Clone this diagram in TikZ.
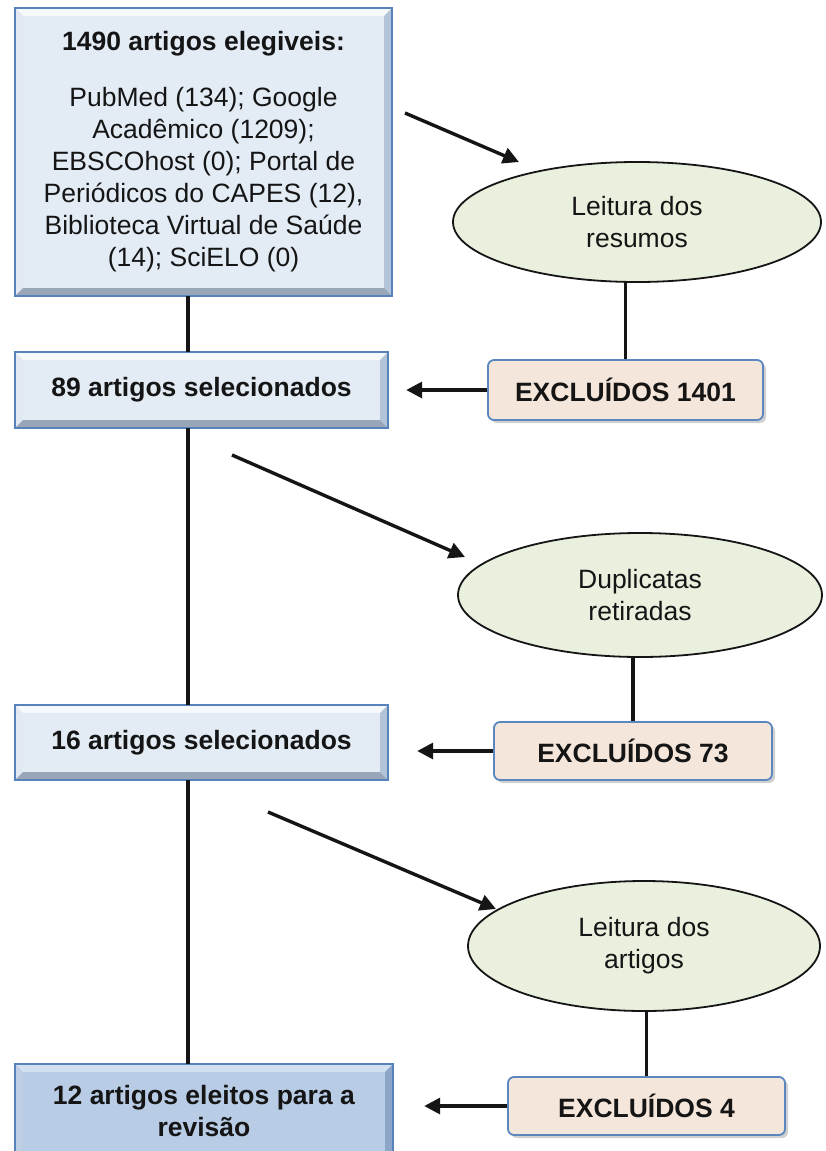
\documentclass[tikz,border=0pt]{standalone}
\usepackage{fontspec}
\setmainfont{Liberation Sans}
\usetikzlibrary{shapes.geometric,arrows.meta,shadows,calc}
\definecolor{boxfill}{HTML}{E3EBF5}
\definecolor{boxlight}{HTML}{F6F9FC}
\definecolor{boxdark}{HTML}{B3C3D8}
\definecolor{boxborder}{HTML}{5683BC}
\definecolor{finfill}{HTML}{B8CCE5}
\definecolor{finlight}{HTML}{D3E0F0}
\definecolor{findark}{HTML}{8CA6C8}
\definecolor{ellfill}{HTML}{EAF0DE}
\definecolor{exfill}{HTML}{F4E6DA}
\definecolor{exborder}{HTML}{5B87C0}
\definecolor{ink}{HTML}{151515}
\newcommand\bevelit[3]{%
  \fill[#2] (#1.north west) -- (#1.north east) -- ($(#1.north east)+(-8,8)$) -- ($(#1.north west)+(8,8)$) -- cycle;
  \fill[#2!70!#3] (#1.north west) -- ($(#1.north west)+(8,8)$) -- ($(#1.south west)+(8,-8)$) -- (#1.south west) -- cycle;
  \fill[#3] (#1.north east) -- (#1.south east) -- ($(#1.south east)+(-8,-8)$) -- ($(#1.north east)+(-8,8)$) -- cycle;
  \fill[#3!85!black] (#1.south west) -- ($(#1.south west)+(8,-8)$) -- ($(#1.south east)+(-8,-8)$) -- (#1.south east) -- cycle;
  \draw[boxborder, line width=1.6pt] (#1.north west) rectangle (#1.south east);
}
\begin{document}
\begin{tikzpicture}[x=1pt,y=-1pt,
  txt/.style={text=ink, font=\fontsize{26.5}{32}\selectfont, align=center, inner sep=0pt},
  mainbox/.style={txt, rectangle, fill=boxfill},
  finbox/.style={txt, rectangle, fill=finfill},
  ell/.style={txt, ellipse, fill=ellfill, draw=ink, line width=1.8pt},
  exbox/.style={txt, rectangle, rounded corners=6pt, fill=exfill, draw=exborder, line width=1.8pt,
    drop shadow={shadow xshift=3pt, shadow yshift=-3pt, opacity=0.3, fill=black!60}},
  conn/.style={draw=ink, line width=3.4pt},
  arr/.style={conn, -{Triangle[length=16pt,width=16pt]}}]
\useasboundingbox[fill=white] (0,0) rectangle (826,1151);

% main boxes
\node[mainbox, minimum width=377pt, minimum height=288pt] (b1) at (203.5,152) {};
\bevelit{b1}{boxlight}{boxdark}
\node[txt] at (b1) {\textbf{1490 artigos elegiveis:}\\[24pt] PubMed (134); Google\\ Acadêmico (1209);\\ EBSCOhost (0); Portal de\\ Periódicos do CAPES (12),\\ Biblioteca Virtual de Saúde\\ (14); SciELO (0)};

\node[mainbox, minimum width=373pt, minimum height=76pt] (b2) at (201.5,390) {};
\bevelit{b2}{boxlight}{boxdark}
\node[txt] at (b2) {\textbf{89 artigos selecionados}};

\node[mainbox, minimum width=373pt, minimum height=75pt] (b3) at (201.5,742.5) {};
\bevelit{b3}{boxlight}{boxdark}
\node[txt] at (b3) {\textbf{16 artigos selecionados}};

\node[finbox, minimum width=378pt, minimum height=96pt] (b4) at (204,1112) {};
\bevelit{b4}{finlight}{findark}
\node[txt] at (204,1111) {\textbf{12 artigos eleitos para a}\\\textbf{revisão}};

% ellipses
\node[ell, minimum width=368pt, minimum height=120pt] (e1) at (637,222) {Leitura dos\\resumos};
\node[ell, minimum width=364pt, minimum height=124pt] (e2) at (640,595) {Duplicatas\\retiradas};
\node[ell, minimum width=352pt, minimum height=130pt] (e3) at (644,946) {Leitura dos\\artigos};

% excluded boxes
\node[exbox, minimum width=275pt, minimum height=60pt] (x1) at (625.5,390) {\textbf{EXCLUÍDOS 1401}};
\node[exbox, minimum width=278pt, minimum height=58pt] (x2) at (633,751) {\textbf{EXCLUÍDOS 73}};
\node[exbox, minimum width=277pt, minimum height=58pt] (x3) at (646.5,1106) {\textbf{EXCLUÍDOS 4}};

% spine
\coordinate (spine) at (188,0);
\draw[conn] (b1.south -| spine) -- (b2.north -| spine);
\draw[conn] (b2.south -| spine) -- (b3.north -| spine);
\draw[conn] (b3.south -| spine) -- (b4.north -| spine);

% ellipse to excluded
\draw[conn] (e1.south -| x1.north) -- (x1.north);
\draw[conn] (e2.south -| x2.north) -- (x2.north);
\draw[conn] (e3.south -| x3.north) -- (x3.north);

% excluded arrows
\draw[arr, shorten >=18pt] (x1.west) -- (x1.west -| b2.east);
\draw[arr, shorten >=29pt] (x2.west) -- (x2.west -| b3.east);
\draw[arr, shorten >=31pt] (x3.west) -- (x3.west -| b4.east);

% diagonal arrows
\coordinate (a1s) at (405,113);
\coordinate (a1e) at (519,162);
\coordinate (a2s) at (232,455);
\coordinate (a2e) at (465,557);
\coordinate (a3s) at (268,812);
\coordinate (a3e) at (496,909);
\draw[arr] (a1s) -- (a1e);
\draw[arr] (a2s) -- (a2e);
\draw[arr] (a3s) -- (a3e);
\end{tikzpicture}
\end{document}
